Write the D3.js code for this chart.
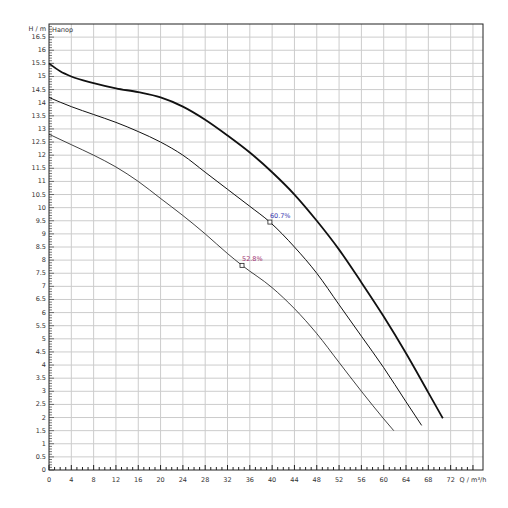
<!DOCTYPE html><html><head><meta charset="utf-8"><script src="https://d3js.org/d3.v7.min.js"></script>
<style>body{margin:0;background:#fff}</style></head><body><svg id="c" width="508" height="508"></svg><script>
const q1=[0,2,4,8,12,16,20,24,28,32,36,40,44,48,52,56,60,64,68,70.6];
const h1=[15.5,15.2,15.0,14.75,14.55,14.4,14.2,13.85,13.35,12.75,12.1,11.35,10.5,9.5,8.4,7.15,5.85,4.45,2.95,1.97];
const q2=[0,4,8,12,16,20,24,28,32,36,39.6,44,48,52,56,60,64,66.8];
const h2=[14.2,13.85,13.55,13.25,12.9,12.5,12.0,11.35,10.7,10.05,9.45,8.5,7.5,6.3,5.1,3.9,2.6,1.7];
const q3=[0,4,8,12,16,20,24,28,32,34.6,40,44,48,52,56,60,61.8];
const h3=[12.8,12.4,12.0,11.55,11.0,10.35,9.7,9.0,8.25,7.8,6.95,6.15,5.2,4.1,3.0,1.95,1.5];
const pts=[{q:39.6,h:9.45,t:"60.7%",c:"#3a3ab0"},{q:34.6,h:7.8,t:"52.8%",c:"#a03070"}];
const svg=d3.select("#c");
const x=d3.scaleLinear([0,77.8],[49,483]), y=d3.scaleLinear([0,17],[470,24]);
const g=svg.append("g");
d3.range(4,77,4).forEach(v=>g.append("line").attr("x1",x(v)).attr("x2",x(v)).attr("y1",y(0)).attr("y2",y(17)).attr("stroke","#ccc"));
d3.range(0.5,17,0.5).forEach(v=>g.append("line").attr("x1",x(0)).attr("x2",x(77.8)).attr("y1",y(v)).attr("y2",y(v)).attr("stroke","#ccc"));
g.append("rect").attr("x",49).attr("y",24).attr("width",434).attr("height",446).attr("fill","none").attr("stroke","#222");
const fs="font-family:'DejaVu Sans';font-size:6.5px;fill:#333";
d3.range(0,77,1).forEach(v=>g.append("line").attr("x1",x(v)).attr("x2",x(v)).attr("y1",470).attr("y2",v%4?467:465).attr("stroke","#222"));
d3.range(0,17,0.1).forEach(v=>g.append("line").attr("x1",49).attr("x2",Math.round(v*10)%5?52:54).attr("y1",y(v)).attr("y2",y(v)).attr("stroke","#222").attr("stroke-width",0.6));
d3.range(0,73,4).forEach(v=>g.append("text").attr("x",x(v)).attr("y",482).attr("text-anchor","middle").attr("style",fs).text(v));
d3.range(0,16.6,0.5).forEach(v=>g.append("text").attr("x",46).attr("y",y(v)+2).attr("text-anchor","end").attr("style",fs).text(v));
g.append("text").attr("x",x(76)).attr("y",482).attr("text-anchor","middle").attr("style",fs).text("Q / m³/h");
g.append("text").attr("x",46).attr("y",31).attr("text-anchor","end").attr("style",fs).text("H / m");
g.append("text").attr("x",52).attr("y",32).attr("style",fs).text("Напор");
const ln=d3.line().x(d=>x(d[0])).y(d=>y(d[1])).curve(d3.curveMonotoneX);
[[q1,h1,1.8],[q2,h2,1],[q3,h3,0.8]].forEach(([q,h,w])=>g.append("path").attr("d",ln(q.map((v,i)=>[v,h[i]]))).attr("fill","none").attr("stroke","#111").attr("stroke-width",w));
pts.forEach(p=>{g.append("rect").attr("x",x(p.q)-2).attr("y",y(p.h)-2).attr("width",4).attr("height",4).attr("fill","#fff").attr("stroke","#222").attr("stroke-width",0.8);
g.append("text").attr("x",x(p.q)).attr("y",y(p.h)-4).attr("style","font-family:'DejaVu Sans';font-size:6.5px;fill:"+p.c).text(p.t);});
</script></body></html>
